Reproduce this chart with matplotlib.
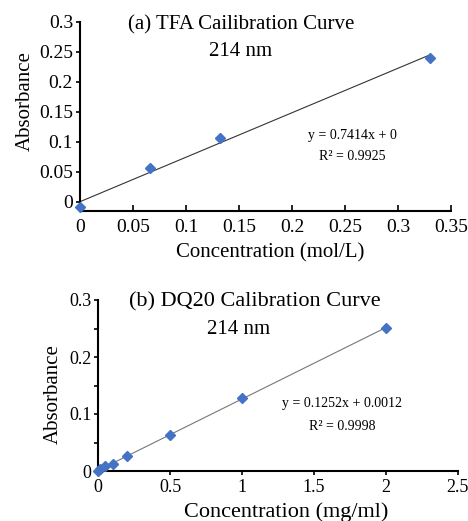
import matplotlib
matplotlib.use("Agg")
import matplotlib.pyplot as plt
import numpy as np

plt.rcParams['font.family'] = ['Liberation Serif', 'DejaVu Serif']

# (a) TFA
tfa_conc = [0.0, 0.066, 0.132, 0.33]
tfa_abs = [-0.008, 0.056, 0.107, 0.240]
tfa_slope, tfa_icpt = 0.7414, 0.0

# (b) DQ20
dq_conc = [0.0, 0.01, 0.05, 0.1, 0.2, 0.5, 1.0, 2.0]
dq_abs = [0.0, 0.003, 0.009, 0.013, 0.026, 0.063, 0.128, 0.251]
dq_slope, dq_icpt = 0.1252, 0.0012

W, H = 468, 521
fig = plt.figure(figsize=(W / 100, H / 100), dpi=100)

def px(x, y):
    return x / W, 1 - y / H

blue = '#4472C4'

# ---- panel (a)
ax1 = fig.add_axes([80 / W, 1 - 211 / H, (451 - 80) / W, (211 - 21.7) / H])
xx = np.array([0, max(tfa_conc)])
ax1.plot(xx, tfa_slope * xx + tfa_icpt, color='#333333', lw=0.8)
ax1.plot(tfa_conc, tfa_abs, 'D', color=blue, ms=5, mec=blue, clip_on=False, zorder=5)
ax1.set_xlim(0, 0.35)
ax1.set_ylim(-0.0155, 0.3)
ax1.set_xticks(np.arange(0, 0.36, 0.05))
ax1.set_xticklabels(['0', '0.05', '0.1', '0.15', '0.2', '0.25', '0.3', '0.35'])
ax1.set_yticks(np.arange(0, 0.31, 0.05))
ax1.set_yticklabels(['0', '0.05', '0.1', '0.15', '0.2', '0.25', '0.3'])
ax1.tick_params(axis='x', direction='in', length=4, width=1.2, labelsize=14, pad=6)
ax1.tick_params(axis='y', direction='out', length=3, width=1.2, labelsize=14, pad=2)
for s in ['top', 'right']:
    ax1.spines[s].set_visible(False)
for s in ['left', 'bottom']:
    ax1.spines[s].set_linewidth(1.5)
ax1.set_xlabel('Concentration (mol/L)', fontsize=15)
ax1.xaxis.set_label_coords(0.512, (211 - 253) / 189.3)
ax1.xaxis.label.set_va('center')
ax1.set_ylabel('Absorbance', fontsize=15)
ax1.yaxis.set_label_coords((25 - 80) / 371, (211 - 101) / 189.3)
ax1.yaxis.label.set_va('center')

fig.text(*px(241, 25), '(a) TFA Cailibration Curve', fontsize=15, ha='center', va='center')
fig.text(*px(241, 52), '214 nm', fontsize=15, ha='center', va='center')
fig.text(*px(352, 135), 'y = 0.7414x + 0', fontsize=10, ha='center', va='center')
fig.text(*px(352, 157), 'R² = 0.9925', fontsize=10, ha='center', va='center')

# ---- panel (b)
ax2 = fig.add_axes([98.3 / W, 1 - 471 / H, (457.7 - 98.3) / W, (471 - 300) / H])
xx = np.array([0, max(dq_conc)])
ax2.plot(xx, dq_slope * xx + dq_icpt, color='#777777', lw=0.8)
ax2.plot(dq_conc, dq_abs, 'D', color=blue, ms=5, mec=blue, clip_on=False, zorder=5)
ax2.set_xlim(0, 2.5)
ax2.set_ylim(0, 0.3)
ax2.set_xticks(np.arange(0, 2.6, 0.5))
ax2.set_xticklabels(['0', '0.5', '1', '1.5', '2', '2.5'])
ax2.set_yticks([0, 0.1, 0.2, 0.3])
ax2.set_yticklabels(['0', '0.1', '0.2', '0.3'])
ax2.set_yticks([0.05, 0.15, 0.25], minor=True)
ax2.tick_params(axis='x', direction='out', length=3, width=1.2, labelsize=13, pad=3)
ax2.tick_params(axis='y', which='both', direction='out', length=3, width=1.2, labelsize=13, pad=2)
for s in ['top', 'right']:
    ax2.spines[s].set_visible(False)
for s in ['left', 'bottom']:
    ax2.spines[s].set_linewidth(1.5)
ax2.set_xlabel('Concentration (mg/ml)', fontsize=16)
ax2.xaxis.set_label_coords((286 - 98.3) / 359.4, (471 - 512) / 171)
ax2.xaxis.label.set_va('center')
ax2.set_ylabel('Absorbance', fontsize=15)
ax2.yaxis.set_label_coords((53 - 98.3) / 359.4, (471 - 394) / 171)
ax2.yaxis.label.set_va('center')

fig.text(*px(255, 302), '(b) DQ20 Calibration Curve', fontsize=16, ha='center', va='center')
fig.text(*px(239, 330), '214 nm', fontsize=15, ha='center', va='center')
fig.text(*px(342, 404), 'y = 0.1252x + 0.0012', fontsize=10, ha='center', va='center')
fig.text(*px(342, 427), 'R² = 0.9998', fontsize=10, ha='center', va='center')

fig.savefig('out.png', dpi=100)
